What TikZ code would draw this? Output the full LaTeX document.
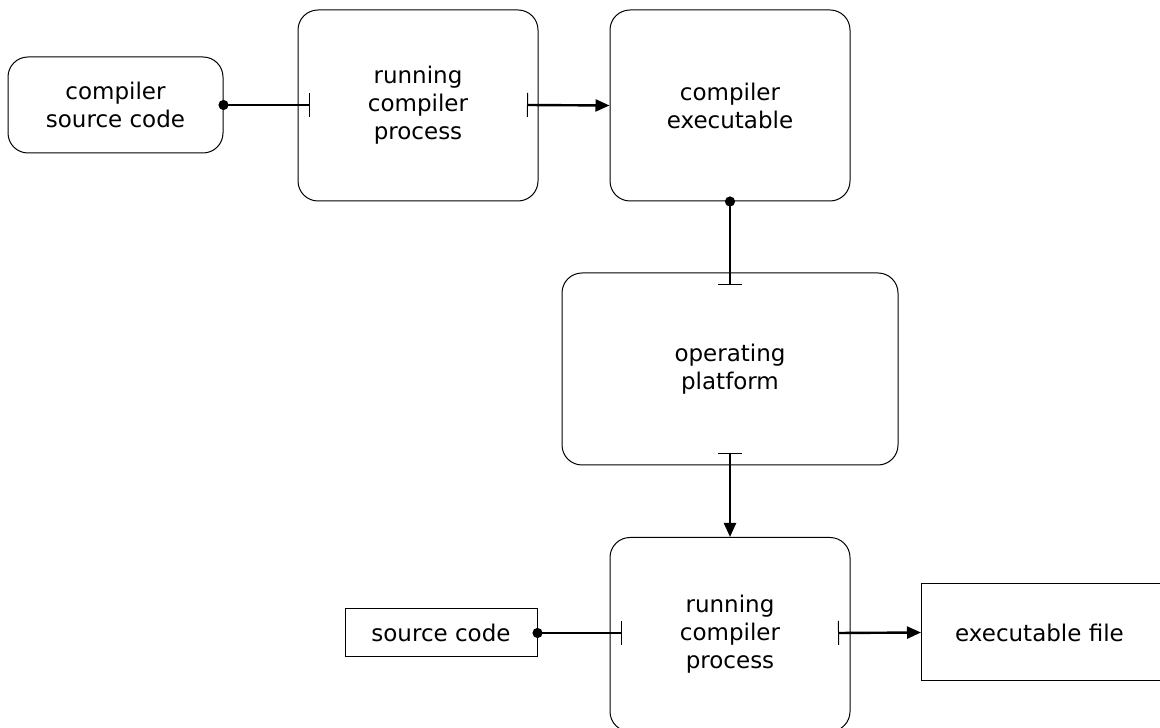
\documentclass[tikz,border=0pt]{standalone}
\usepackage{fontspec}
\setmainfont{DejaVu Sans}
\usetikzlibrary{arrows.meta}
\begin{document}
\begin{tikzpicture}[x=1pt,y=1pt,
  every node/.style={font=\fontsize{23}{28}\selectfont, align=center, inner sep=0pt},
  rbox/.style={draw, line width=1pt, rounded corners=20pt},
  sbox/.style={draw, line width=1pt},
  conn/.style={line width=2.4pt},
  dotbar/.style={conn, {Circle[length=10pt]}-{Bar[width=24pt,line width=1pt]}, shorten <=-5pt},
  bararrow/.style={conn, {Bar[width=24pt,line width=1pt]}-{Triangle[length=14pt,width=12pt]}}
]
\useasboundingbox (0,0) rectangle (1160,728);
\node[rbox, minimum width=215pt, minimum height=96pt] (csrc) at (115.5,623) {compiler\\source code};
\node[rbox, minimum width=240pt, minimum height=191pt] (rcp1) at (418,622.5) {running\\compiler\\process};
\node[rbox, minimum width=240pt, minimum height=191pt] (cexe) at (730,622.5) {compiler\\executable};
\node[rbox, minimum width=336pt, minimum height=192pt] (oplat) at (730,359) {operating\\platform};
\node[rbox, minimum width=240pt, minimum height=194pt, anchor=north] (rcp2) at (730,191) {\raisebox{1.5pt}{\begin{tabular}{@{}c@{}}running\\compiler\\process\end{tabular}}};
\node[sbox, minimum width=192pt, minimum height=48pt] (src) at (441,95) {source code};
\node[sbox, minimum width=260pt, minimum height=97pt, anchor=west] (exe) at (921,95.5) {\hspace*{-12pt}executable file\hspace*{12pt}};

\coordinate (c1) at (310,623);
\coordinate (c2) at (527,623);
\coordinate (c3) at (730,443);
\coordinate (c4) at (730,275);
\coordinate (c5) at (622,95);
\coordinate (c6) at (838,95);

\draw[dotbar] (csrc.east) -- (c1);
\draw[bararrow] (c2) -- (cexe.west);
\draw[dotbar] (cexe.south) -- (c3);
\draw[bararrow] (c4) -- (rcp2.north);
\draw[dotbar] (src.east) -- (c5);
\draw[bararrow] (c6) -- (exe.west);
\end{tikzpicture}
\end{document}
